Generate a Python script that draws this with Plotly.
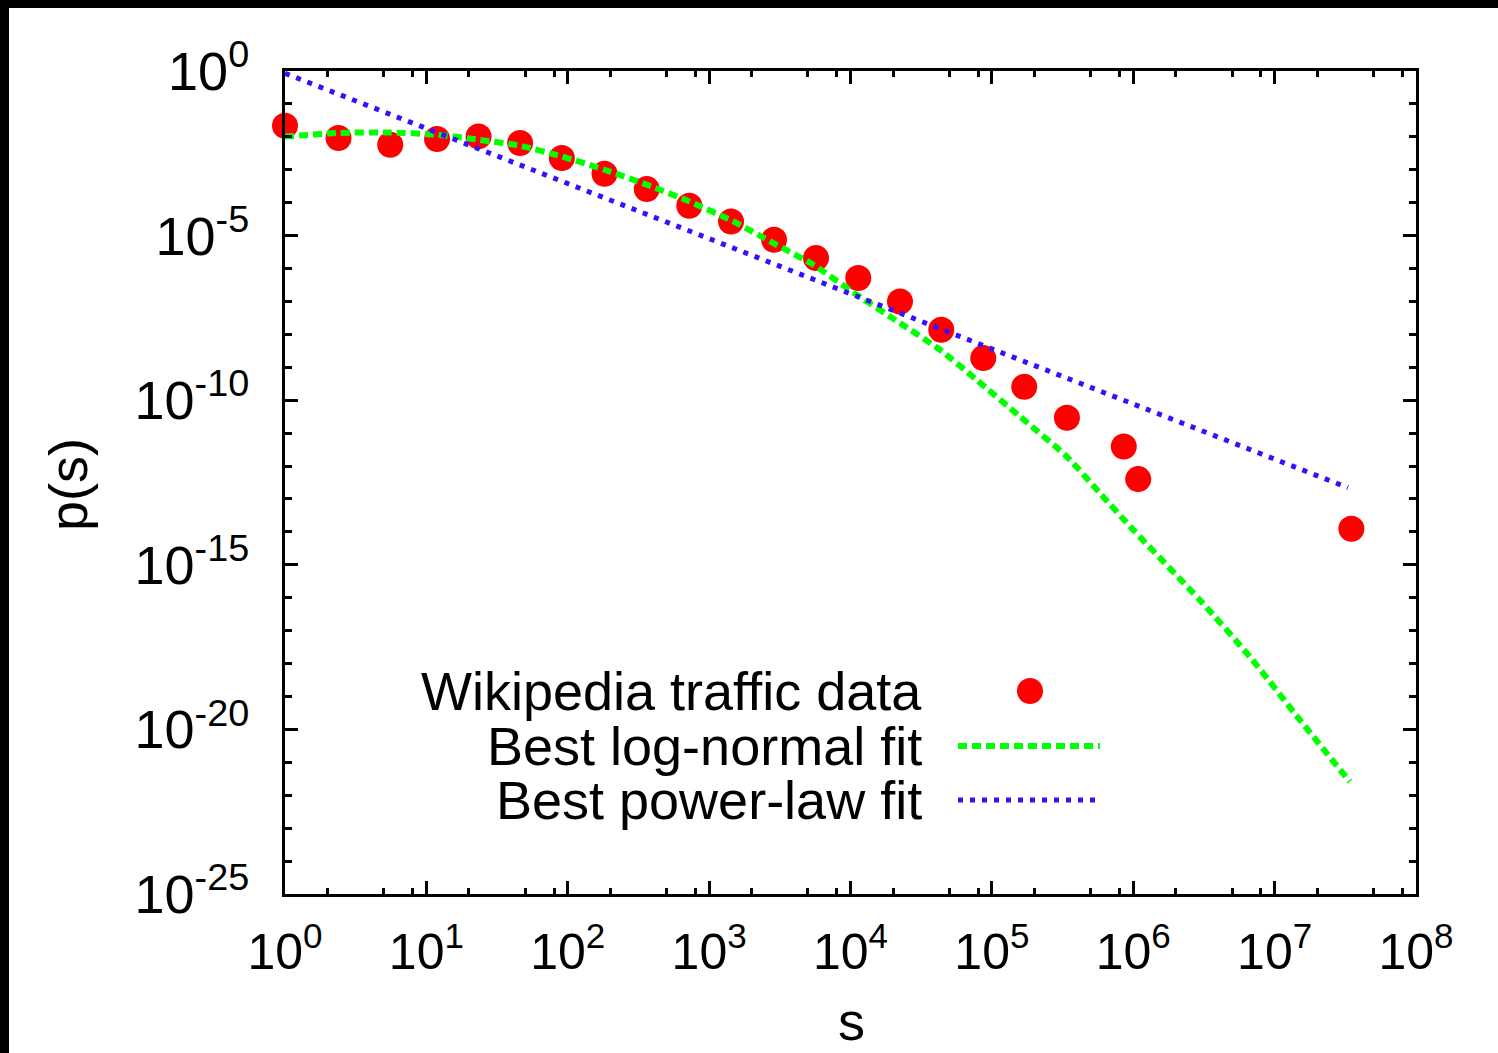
import plotly.graph_objects as go

# Binned distribution of Wikipedia page traffic
s_data = [1, 2.39, 5.55, 11.9, 23.4, 46.0, 90.8, 182, 362, 724, 1429, 2877, 5702,
          11350, 22390, 43850, 86900, 169400, 339600, 857000, 1084000, 3.49e7]
p_data = [2.18e-2, 9.2e-3, 5.77e-3, 8.6e-3, 1.03e-2, 6.5e-3, 2.27e-3, 7.57e-4,
          2.59e-4, 8.07e-5, 2.69e-5, 7.48e-6, 2.08e-6, 5.13e-7, 9.98e-8, 1.38e-8,
          1.90e-9, 2.55e-10, 2.92e-11, 3.92e-12, 4.01e-13, 1.24e-14]

# Best log-normal fit, sampled along s
s_lognorm = [1, 2.39, 5.55, 11.9, 23.4, 46.0, 90.8, 182, 362, 724, 1567, 2844, 5458,
             11070, 22390, 42950, 77980, 157800, 338100, 580700, 1.0e6, 2.958e6,
             6.668e6, 1.507e7, 3.404e7]
p_lognorm = [1.02e-2, 1.31e-2, 1.36e-2, 1.16e-2, 8.17e-3, 5.37e-3, 2.54e-3, 1.00e-3,
             3.51e-4, 1.09e-4, 2.40e-5, 5.94e-6, 1.30e-6, 1.60e-7, 2.20e-8, 3.40e-9,
             4.17e-10, 3.20e-11, 1.95e-12, 1.51e-13, 1.15e-14, 8.51e-17, 1.62e-18,
             1.95e-20, 2.57e-22]

# Best power-law fit (straight line in log-log)
s_power = [1, 3.3e7]
p_power = [0.85, 2.2e-13]

x_tick_exps = [0, 1, 2, 3, 4, 5, 6, 7, 8]
y_tick_exps = [0, -5, -10, -15, -20, -25]

series_names = ["Wikipedia traffic data", "Best log-normal fit", "Best power-law fit"]
x_title, y_title = "s", "p(s)"

RED, GREEN, BLUE = "#ff0000", "#00ff00", "#3311ff"
FONT = "Liberation Sans, Arial, Helvetica, sans-serif"

W, H = 1498, 1053
L, R, T, B = 285, 82, 71, 159


def px_x(px):
    return (px - L) / (W - L - R)


def px_y(py):
    return (H - B - py) / (H - T - B)


def sup_label(e):
    return f"10<sup style='font-size:86%'>{e}</sup>"


x_minor = [m * 10 ** k for k in range(8) for m in (2, 5, 8)]
y_minor = [10.0 ** -k for k in range(1, 25) if k % 5]

fig = go.Figure()
fig.add_trace(go.Scatter(
    x=s_data, y=p_data, mode="markers", name=series_names[0],
    marker=dict(color=RED, size=26, line=dict(width=0)),
    cliponaxis=False, showlegend=False))
fig.add_trace(go.Scatter(
    x=s_lognorm, y=p_lognorm, mode="lines", name=series_names[1],
    line=dict(color=GREEN, width=6, dash="9px,5px", shape="spline", smoothing=0.6),
    showlegend=False))
fig.add_trace(go.Scatter(
    x=s_power, y=p_power, mode="lines", name=series_names[2],
    line=dict(color=BLUE, width=5, dash="5px,7px"),
    showlegend=False))

axis_common = dict(
    type="log", showgrid=False, zeroline=False,
    showline=True, linecolor="black", linewidth=3, mirror="allticks",
    ticks="inside", ticklen=13, tickwidth=2.5, tickcolor="black",
)

fig.update_xaxes(
    **axis_common, range=[0, 8],
    tickvals=[10 ** e for e in x_tick_exps],
    ticktext=[sup_label(e) for e in x_tick_exps],
    tickfont=dict(family=FONT, size=50, color="black"),
    minor=dict(tickvals=x_minor, ticks="inside", ticklen=6, tickwidth=2.5,
               tickcolor="black", showgrid=False),
    ticklabelstandoff=12,
)
fig.update_yaxes(
    **axis_common, range=[-25, 0],
    tickvals=[10.0 ** e for e in y_tick_exps],
    ticktext=[sup_label(e) for e in y_tick_exps],
    tickfont=dict(family=FONT, size=54, color="black"),
    minor=dict(tickvals=y_minor, ticks="inside", ticklen=7, tickwidth=2.5,
               tickcolor="black", showgrid=False),
    ticklabelstandoff=22,
)

annotations = [
    # axis titles
    dict(x=px_x(851), y=px_y(H), xref="paper", yref="paper", text=x_title,
         showarrow=False, xanchor="center", yanchor="bottom",
         font=dict(family=FONT, size=54, color="black")),
    dict(x=px_x(68), y=px_y(485), xref="paper", yref="paper", text=y_title,
         showarrow=False, xanchor="center", yanchor="middle", textangle=-90,
         font=dict(family=FONT, size=54, color="black")),
]

# Legend drawn gnuplot-style: label text right-aligned, sample to its right
legend_rows = [691, 746, 800]
for name, row in zip(series_names, legend_rows):
    annotations.append(dict(
        x=px_x(924), y=px_y(row), xref="paper", yref="paper",
        text=name, showarrow=False, xanchor="right", yanchor="middle",
        font=dict(family=FONT, size=54, color="black")))

shapes = [
    # legend samples
    dict(type="circle", xref="paper", yref="paper",
         x0=px_x(1017), x1=px_x(1043), y0=px_y(704), y1=px_y(678),
         fillcolor=RED, line=dict(width=0)),
    dict(type="line", xref="paper", yref="paper",
         x0=px_x(958), x1=px_x(1100), y0=px_y(746), y1=px_y(746),
         line=dict(color=GREEN, width=6, dash="9px,5px")),
    dict(type="line", xref="paper", yref="paper",
         x0=px_x(958), x1=px_x(1100), y0=px_y(800), y1=px_y(800),
         line=dict(color=BLUE, width=5, dash="5px,7px")),
    # dark frame on top and left edges of the page
    dict(type="rect", xref="paper", yref="paper", layer="above",
         x0=px_x(0), x1=px_x(W), y0=px_y(8), y1=px_y(0),
         fillcolor="black", line=dict(width=0)),
    dict(type="rect", xref="paper", yref="paper", layer="above",
         x0=px_x(0), x1=px_x(9), y0=px_y(H), y1=px_y(0),
         fillcolor="black", line=dict(width=0)),
]

fig.update_layout(
    width=W, height=H,
    margin=dict(l=L, r=R, t=T, b=B, autoexpand=False),
    paper_bgcolor="white", plot_bgcolor="white",
    font=dict(family=FONT, color="black"),
    annotations=annotations, shapes=shapes,
    showlegend=False,
)

fig.write_html("out.html")
